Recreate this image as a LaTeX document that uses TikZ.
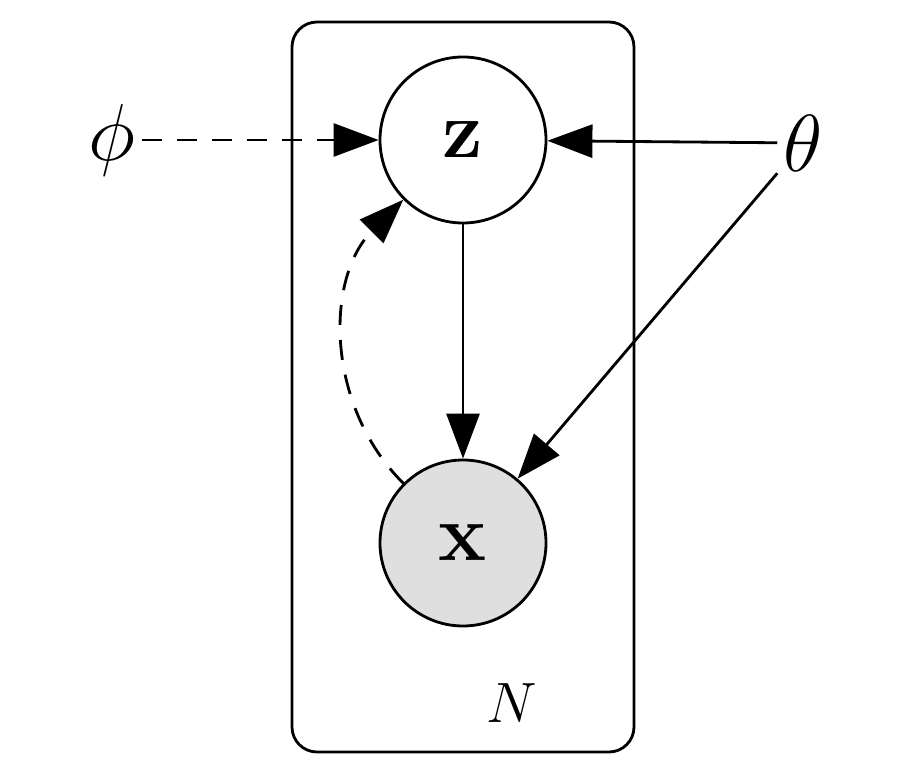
\documentclass[tikz,border=0pt]{standalone}
\usepackage{amssymb,amsfonts,amsmath}
\usepackage{graphicx}
\usetikzlibrary{arrows.meta}

\newcommand{\bigsym}[2][1.85]{\scalebox{#1}{$#2$}}

\begin{document}
\begin{tikzpicture}[
        latent/.style={circle, draw, line width=1.6pt, minimum size=3.32cm, inner sep=0pt},
        obs/.style={latent, fill=gray!25},
        edge/.style={line width=1.6pt, -{Triangle[length=0.9cm,width=0.66cm]}},
        lbl/.style={font=\fontsize{40}{48}\selectfont}
    ]
        \useasboundingbox (0,0) rectangle (18.36,15.44);
        \draw [line width=1.6pt, rounded corners=0.5cm] (5.84,0.4) rectangle (12.68,15.0);
        \node [latent, lbl] (z) at (9.26,12.64) {\bigsym{\mathbf{z}}};
        \node [obs, lbl]    (x) at (9.26,4.58) {\bigsym{\mathbf{x}}};
        \node [lbl] (phi)   at (2.24,12.64) {\bigsym{\phi}};
        \node [lbl] (theta) at (16.06,12.58) {\bigsym{\theta}};
        \node [lbl] (N)     at (10.24,1.38) {\bigsym[1.3]{N}};
        \draw [edge] (z) -- (x);
        \draw [edge] (theta) -- (z);
        \draw [edge] (theta) -- (x);
        \draw [edge, dashed, dash pattern=on 0.4cm off 0.3cm] (phi) -- (z);
        \draw [edge, dashed, dash pattern=on 0.4cm off 0.3cm] (x.135) to [bend left=45] (z.225);
    \end{tikzpicture}
\end{document}
